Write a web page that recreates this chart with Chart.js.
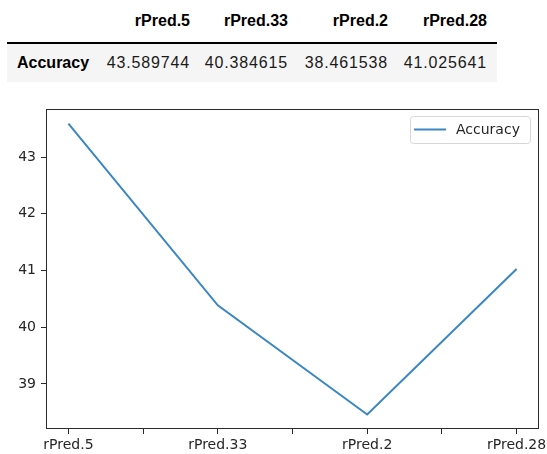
<!DOCTYPE html>
<html>
<head>
<meta charset="utf-8">
<script src="https://cdn.jsdelivr.net/npm/chart.js@4"></script>
<style>
  html, body { margin: 0; padding: 0; background: #fff; }
  body { width: 547px; height: 454px; position: relative; overflow: hidden; }
  table.df {
    position: absolute; left: 7px; top: 0;
    border-collapse: collapse; table-layout: fixed;
    font-family: "Liberation Sans", Arial, sans-serif; font-size: 16px; color: #000;
  }
  table.df th, table.df td { padding: 0 10px 0 0; text-align: right; white-space: nowrap; }
  table.df thead th { height: 42px; border-bottom: 2px solid #000; font-weight: bold; }
  table.df tbody tr { background: #f5f5f5; }
  table.df tbody td { height: 38px; letter-spacing: 0.85px; color: #1a1a1a; }
  table.df tbody th { height: 38px; text-align: left; padding-left: 10px; font-weight: bold; }
  #chartBox { position: absolute; left: 0; top: 90px; width: 547px; height: 364px; }
</style>
</head>
<body>
<table class="df">
  <colgroup>
    <col style="width:93px"><col style="width:100px"><col style="width:98px"><col style="width:100px"><col style="width:99px">
  </colgroup>
  <thead><tr id="headRow"><th></th></tr></thead>
  <tbody><tr id="valRow"></tr></tbody>
</table>
<div id="chartBox"><canvas id="chart"></canvas></div>
<script>
// ── 数据 ──
var categories = ['rPred.5', 'rPred.33', 'rPred.2', 'rPred.28'];
var accuracy = [43.589744, 40.384615, 38.461538, 41.025641];
var valueLabels = ['43.589744', '40.384615', '38.461538', '41.025641'];
var seriesName = 'Accuracy';
var yTicks = [39, 40, 41, 42, 43];

// ── 表格 ──
var headRow = document.getElementById('headRow');
categories.forEach(function(c) {
  var th = document.createElement('th');
  th.textContent = c;
  headRow.appendChild(th);
});
var valRow = document.getElementById('valRow');
valRow.innerHTML = '<th>' + seriesName + '</th>';
valueLabels.forEach(function(v) {
  var td = document.createElement('td');
  td.textContent = v;
  valRow.appendChild(td);
});

// ── 坐标范围（matplotlib 默认 5% 边距）──
var n = categories.length;
var xPad = (n - 1) * 0.05;
var yMin = Math.min.apply(null, accuracy), yMax = Math.max.apply(null, accuracy);
var yPad = (yMax - yMin) * 0.05;

var xTickVals = [];
for (var i = 0; i <= (n - 1) * 2; i++) xTickVals.push(i / 2);

var axisColor = '#2b2b2b';
var lineColor = '#3a87c3';

// 边框 + 图例
var framePlugin = {
  id: 'frame',
  afterDatasetsDraw: function(chart) {
    var ctx = chart.ctx, a = chart.chartArea;
    ctx.save();
    ctx.strokeStyle = axisColor;
    ctx.lineWidth = 1;
    ctx.strokeRect(Math.round(a.left) + 0.5, Math.round(a.top) + 0.5,
      Math.round(a.right - a.left) - 1, Math.round(a.bottom - a.top) - 1);

    // 图例
    var bx = a.right - 129, by = a.top + 7, bw = 120, bh = 27;
    ctx.beginPath();
    if (ctx.roundRect) ctx.roundRect(bx + 0.5, by + 0.5, bw, bh, 3); else ctx.rect(bx + 0.5, by + 0.5, bw, bh);
    ctx.fillStyle = 'rgba(255,255,255,0.8)';
    ctx.fill();
    ctx.strokeStyle = '#d6d6d6';
    ctx.stroke();
    ctx.beginPath();
    ctx.moveTo(bx + 4, by + 13.5);
    ctx.lineTo(bx + 36, by + 13.5);
    ctx.strokeStyle = lineColor;
    ctx.lineWidth = 2;
    ctx.stroke();
    ctx.fillStyle = '#262626';
    ctx.font = '14px "DejaVu Sans"';
    ctx.textBaseline = 'middle';
    ctx.fillText(chart.data.datasets[0].label, bx + 46, by + 14);
    ctx.restore();
  }
};

var ctx = document.getElementById('chart').getContext('2d');
new Chart(ctx, {
  type: 'line',
  data: {
    datasets: [{
      label: seriesName,
      data: accuracy.map(function(v, i) { return { x: i, y: v }; }),
      borderColor: lineColor,
      borderWidth: 2,
      pointRadius: 0,
      tension: 0,
      fill: false
    }]
  },
  options: {
    responsive: true, maintainAspectRatio: false, animation: false,
    layout: { padding: { top: 19, right: 8, left: 0, bottom: 0 } },
    plugins: { legend: { display: false }, tooltip: { enabled: false } },
    scales: {
      x: {
        type: 'linear', min: -xPad, max: (n - 1) + xPad,
        afterBuildTicks: function(s) { s.ticks = xTickVals.map(function(v) { return { value: v }; }); },
        afterFit: function(s) { s.height = 25; s.paddingLeft = 0; s.paddingRight = 0; },
        ticks: {
          color: '#262626', font: { family: 'DejaVu Sans', size: 14 }, padding: 3,
          maxRotation: 0, autoSkip: false,
          callback: function(v) { return v % 1 === 0 ? categories[v] : ''; }
        },
        grid: { display: true, drawOnChartArea: false, drawTicks: true, tickLength: 5, color: axisColor },
        border: { display: false }
      },
      y: {
        type: 'linear', min: yMin - yPad, max: yMax + yPad,
        afterBuildTicks: function(s) { s.ticks = yTicks.map(function(v) { return { value: v }; }); },
        afterFit: function(s) { s.width = 46; s.paddingTop = 0; s.paddingBottom = 0; },
        ticks: { color: '#262626', font: { family: 'DejaVu Sans', size: 14 }, padding: 5 },
        grid: { display: true, drawOnChartArea: false, drawTicks: true, tickLength: 5, color: axisColor },
        border: { display: false }
      }
    }
  },
  plugins: [framePlugin]
});
</script>
</body>
</html>
